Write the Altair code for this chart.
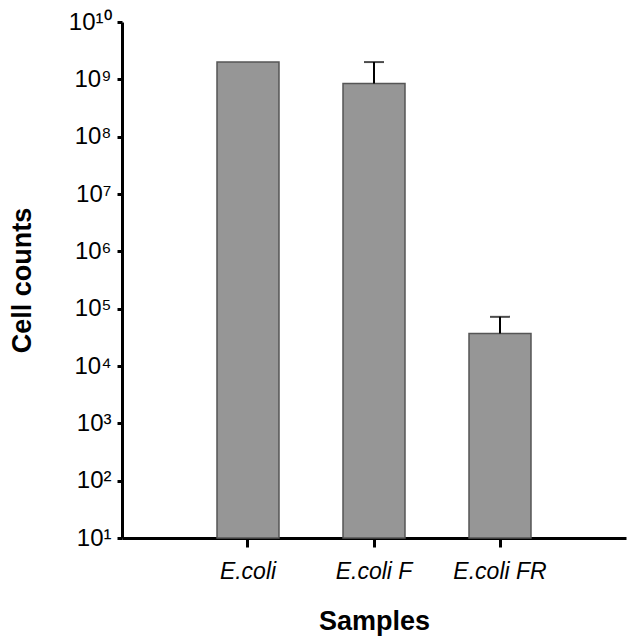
import json
import altair as alt
import pandas as pd

samples = ["E.coli", "E.coli F", "E.coli FR"]
counts = [2.0e9, 8.5e8, 3.7e4]
err_upper = [0, 1.15e9, 3.5e4]
y_ticks = [1e1, 1e2, 1e3, 1e4, 1e5, 1e6, 1e7, 1e8, 1e9, 1e10]
sup = ["⁰", "¹", "²", "³", "⁴", "⁵", "⁶", "⁷", "⁸", "⁹", "¹⁰"]

df = pd.DataFrame({"sample": samples, "count": counts, "err": err_upper})
df["top"] = df["count"] + df["err"]
err_df = df[df["err"] > 0]

FONT = "Liberation Sans"
label_expr = "'10' + " + json.dumps(sup, ensure_ascii=False) + "[round(log(datum.value)/LN10)]"

x = alt.X("sample:N", sort=samples,
          scale=alt.Scale(type="band", paddingInner=0.508, paddingOuter=0.754),
          axis=alt.Axis(title="Samples", labelAngle=0, labelFontStyle="italic",
                        labelFontSize=23, labelFont=FONT, labelColor="black",
                        labelPadding=13, tickSize=9, tickWidth=3, tickColor="black",
                        domainWidth=3, domainColor="black",
                        titleFont=FONT, titleFontSize=27, titleFontWeight="bold",
                        titleColor="black", titlePadding=25))
y_scale = alt.Scale(type="log", domain=[10, 1e10])
y = alt.Y("count:Q", scale=y_scale,
          axis=alt.Axis(title="Cell counts", values=y_ticks, labelExpr=label_expr,
                        labelFont=FONT, labelFontSize=24, labelColor="black",
                        labelPadding=6, tickSize=5, tickWidth=3, tickColor="black",
                        domainWidth=3, domainColor="black", grid=False,
                        titleFont=FONT, titleFontSize=27, titleFontWeight="bold",
                        titleColor="black", titlePadding=32))

bars = alt.Chart(df).mark_bar(color="#969696", stroke="#555555", strokeWidth=1.5).encode(
    x=x, y=y, y2=alt.datum(10))

rules = alt.Chart(err_df).mark_rule(color="black", strokeWidth=2).encode(
    x=alt.X("sample:N", sort=samples), y=alt.Y("count:Q"), y2="top:Q")

caps = alt.Chart(err_df).mark_tick(color="black", size=20, thickness=2).encode(
    x=alt.X("sample:N", sort=samples), y=alt.Y("top:Q"))

chart = alt.layer(bars, rules, caps).properties(
    width=504, height=516,
    autosize="none",
    padding={"left": 114, "top": 14, "right": 4, "bottom": 102},
).configure_view(stroke=None)

chart.save("out.html", embed_options={"renderer": "svg", "actions": False})
